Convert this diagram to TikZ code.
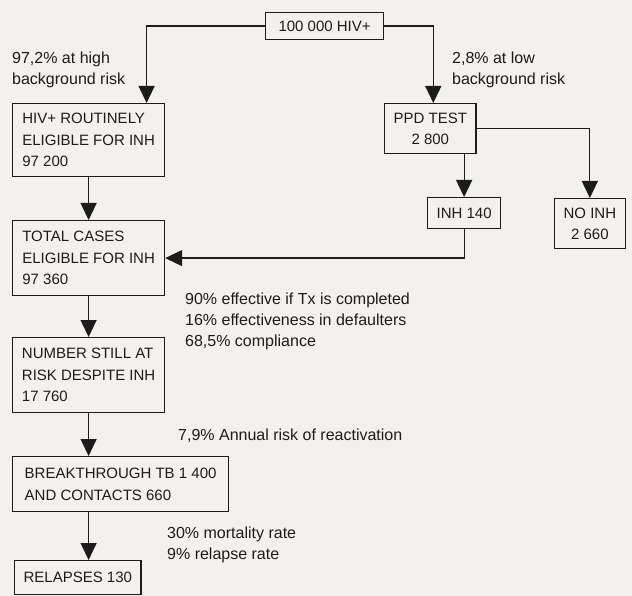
\documentclass[tikz,border=0pt]{standalone}
\usepackage{fontspec}
\setmainfont{Liberation Sans}
\usetikzlibrary{arrows.meta}
\definecolor{paper}{RGB}{242,241,238}
\definecolor{ink}{RGB}{28,28,28}

\begin{document}
\begin{tikzpicture}[x=1pt,y=-1pt,
  box/.style={draw=ink,line width=1.2pt,text=ink,inner xsep=9pt,inner ysep=0pt,
    align=left,anchor=north west,font=\fontsize{15}{21.5}\selectfont},
  note/.style={text=ink,inner sep=0pt,align=left,anchor=north west,
    font=\fontsize{16}{21}\selectfont},
  flow/.style={draw=ink,line width=1.2pt,-{Triangle[width=16pt,length=17pt]}}]
\fill[paper] (0,0) rectangle (632,596);
\node[box,align=center,minimum width=118pt,minimum height=27pt] (hiv) at (265,12) {100 000 HIV+};
\node[box,minimum width=152pt,minimum height=73pt] (routine) at (12,103) {HIV+ ROUTINELY\\ELIGIBLE FOR INH\\97 200};
\node[box,minimum width=152pt,minimum height=75pt] (total) at (12,220) {TOTAL CASES\\ELIGIBLE FOR INH\\97 360};
\node[box,minimum width=152pt,minimum height=75pt] (still) at (12,337) {NUMBER STILL AT\\RISK DESPITE INH\\17 760};
\node[box,minimum width=216pt,minimum height=55pt] (breakthrough) at (12,456) {BREAKTHROUGH TB 1 400\\AND CONTACTS 660};
\node[box,minimum width=123pt,minimum height=34pt] (relapses) at (14,560) {RELAPSES 130};
\node[box,align=center,minimum width=91pt,minimum height=50pt] (ppd) at (384,103) {PPD TEST\\2 800};
\node[box,align=center,minimum width=68pt,minimum height=31pt] (inh) at (427,197) {INH 140};
\node[box,align=center,minimum width=69pt,minimum height=50pt] (noinh) at (554,198) {NO INH\\2 660};
\node[note] (high) at (12,52) {97,2\% at high\\background risk};
\node[note] (low) at (452,52) {2,8\% at low\\background risk};
\node[note] (effect) at (185,293) {90\% effective if Tx is completed\\16\% effectiveness in defaulters\\68,5\% compliance};
\node[note] (react) at (178,429) {7,9\% Annual risk of reactivation};
\node[note] (mort) at (167,527) {30\% mortality rate\\9\% relapse rate};
\draw[flow] (hiv.west) -| ([xshift=58pt]routine.north);
\draw[flow] (hiv.east) -| ([xshift=3pt]ppd.north);
\draw[flow] (ppd.east) -| (noinh.north);
\draw[flow] (inh.north |- ppd.south) -- (inh.north);
\draw[flow] (inh.south) |- (total.east);
\foreach \a/\b in {routine/total,total/still,still/breakthrough,breakthrough/relapses}
  \draw[flow] (\a.south -| still.south) -- (\b.north -| still.south);
\end{tikzpicture}
\end{document}
